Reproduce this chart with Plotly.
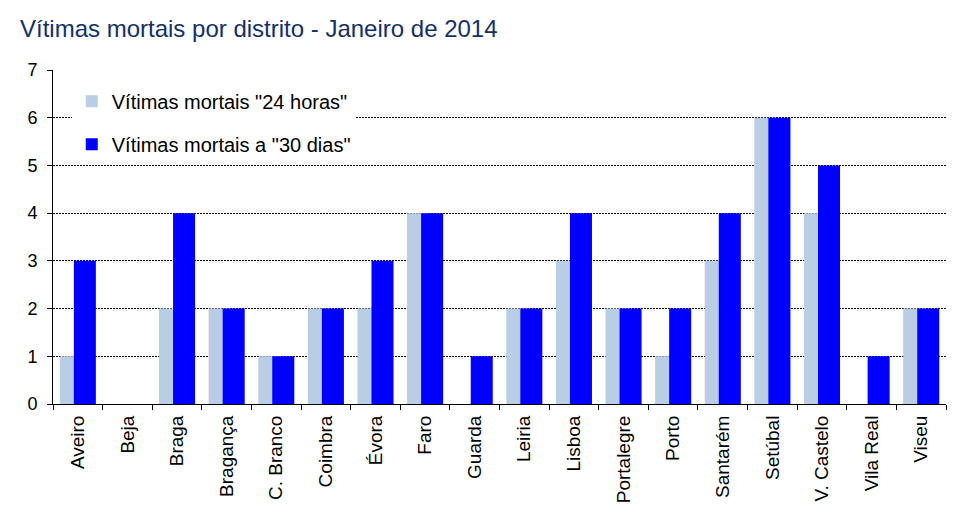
import plotly.graph_objects as go

districts = ["Aveiro", "Beja", "Braga", "Bragança", "C. Branco", "Coimbra", "Évora", "Faro",
             "Guarda", "Leiria", "Lisboa", "Portalegre", "Porto", "Santarém", "Setúbal",
             "V. Castelo", "Vila Real", "Viseu"]
mortos_24h = [1, 0, 2, 2, 1, 2, 2, 4, 0, 2, 3, 2, 1, 3, 6, 4, 0, 2]
mortos_30d = [3, 0, 4, 2, 1, 2, 3, 4, 1, 2, 4, 2, 2, 4, 6, 5, 1, 2]
y_ticks = [0, 1, 2, 3, 4, 5, 6, 7]

FONT = "Liberation Sans, Arial, sans-serif"

fig = go.Figure()
fig.add_trace(go.Bar(
    x=districts, y=mortos_24h, name='Vítimas mortais "24 horas"',
    marker=dict(color="#B9CDE5", line=dict(width=0)),
    width=0.444, offset=-0.363, legendgroup="a",
))
fig.add_trace(go.Bar(
    x=districts, y=mortos_30d, name='Vítimas mortais a "30 dias"',
    marker=dict(color="#0000FF", line=dict(width=0)),
    width=0.444, offset=-0.08, legendgroup="b",
))

fig.update_layout(
    width=958, height=522,
    margin=dict(l=53, r=12, t=70, b=118),
    paper_bgcolor="white", plot_bgcolor="white",
    barmode="overlay",
    font=dict(family=FONT, size=17, color="black"),
    title=dict(
        text="Vítimas mortais por distrito - Janeiro de 2014",
        x=20 / 958, xanchor="left", xref="container",
        y=1 - 29 / 522, yanchor="middle", yref="container",
        font=dict(family=FONT, size=24, color="#13306B"),
    ),
    showlegend=True,
    legend=dict(
        x=0.021, xanchor="left", y=0.965, yanchor="top",
        bgcolor="white", borderwidth=0,
        font=dict(family=FONT, size=20, color="black"),
        traceorder="grouped", tracegroupgap=14,
        itemclick=False,
    ),
    xaxis=dict(
        type="category", tickangle=-90,
        showline=True, linecolor="black", linewidth=1,
        ticks="outside", ticklen=5, tickcolor="black", tickson="boundaries",
        showgrid=False,
        tickfont=dict(family=FONT, size=19, color="black"),
        ticklabelstandoff=3,
    ),
    yaxis=dict(
        range=[0, 7], tickvals=y_ticks,
        showline=True, linecolor="black", linewidth=1,
        ticks="outside", ticklen=5, tickcolor="black",
        showgrid=True, gridcolor="black", gridwidth=1, griddash="2px,1px",
        zeroline=False,
        tickfont=dict(family=FONT, size=18, color="black"),
        ticklabelstandoff=6,
    ),
    shapes=[dict(
        type="rect", xref="paper", yref="paper", layer="between",
        x0=(72 - 53) / 893, x1=(385 - 53) / 893,
        y0=(404 - 160) / 334, y1=(404 - 76) / 334,
        fillcolor="white", line=dict(width=0),
    )],
)

fig.write_html("out.html")
